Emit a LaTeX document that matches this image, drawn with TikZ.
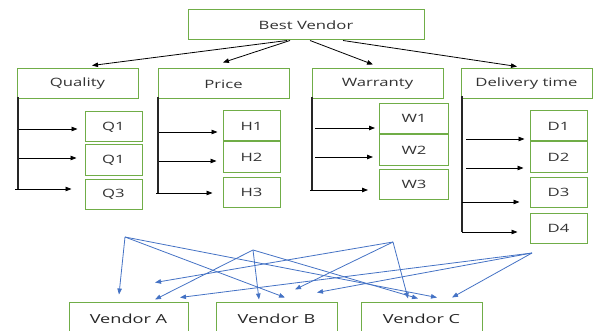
\documentclass[tikz,border=0pt]{standalone}
\usepackage{fontspec}
\newfontfamily\boxfont[FakeStretch=1.45]{Open Sans}
\usetikzlibrary{arrows.meta,positioning}
\definecolor{boxgreen}{RGB}{112,173,71}
\definecolor{linkblue}{RGB}{68,114,196}
\definecolor{txtgray}{RGB}{50,50,50}

\begin{document}
\begin{tikzpicture}[x=1pt, y=-1pt, >={Triangle[length=6pt,width=4.5pt]}]
    \tikzset{
        box/.style={draw=boxgreen, line width=1pt, rectangle, minimum height=30pt, inner sep=0pt, text=txtgray, font=\boxfont\fontsize{11.5}{13}\selectfont},
        sub/.style={box, minimum width=57pt},
        vendor/.style={box, minimum height=34pt, text=black!85, font=\boxfont\fontsize{12.5}{14}\selectfont},
        trunk/.style={draw=black!85, line width=1.4pt},
        line/.style={draw, ->, line width=0.8pt},
        link/.style={draw=linkblue, ->, line width=0.8pt}
    }
    \useasboundingbox (0,0) rectangle (593,331);

    \node [box, minimum width=236pt] (best) at (306,25) {Best Vendor};
    \node [box, minimum width=121pt] (quality) at (77.5,84) {Quality};
    \node [box, minimum width=131pt] (price) at (223.5,84) {Price};
    \node [box, minimum width=131pt] (warranty) at (377.5,84) {Warranty};
    \node [box, minimum width=131pt] (delivery) at (526.5,84) {Delivery time};

    \node [sub] (q1) at (113.5,127) {Q1};
    \node [sub, below=2pt of q1] (q2) {Q1};
    \node [sub, below=3pt of q2] (q3) {Q3};
    \node [sub] (h1) at (251.5,126) {H1};
    \node [sub, below=0pt of h1] (h2) {H2};
    \node [sub, below=4pt of h2] (h3) {H3};
    \node [sub, minimum width=69pt] (w1) at (414,118.5) {W1};
    \node [sub, minimum width=69pt, below=0.5pt of w1] (w2) {W2};
    \node [sub, minimum width=69pt, below=3pt of w2] (w3) {W3};
    \node [sub] (d1) at (558.5,126) {D1};
    \node [sub, below=0pt of d1] (d2) {D2};
    \node [sub, below=4pt of d2] (d3) {D3};
    \node [sub, below=5pt of d3] (d4) {D4};

    \node [vendor, minimum width=119pt] (va) at (128.5,319) {Vendor A};
    \node [vendor, minimum width=121pt] (vb) at (276.5,319) {Vendor B};
    \node [vendor, minimum width=121pt] (vc) at (421.5,319) {Vendor C};

    \draw [line] ([xshift=-19pt]best.south) -- ([shift={(14.5,-3)}]quality.north);
    \draw [line] ([xshift=-16pt]best.south) -- ([shift={(-0.5,-6)}]price.north);
    \draw [line] ([xshift=4pt]best.south) -- ([shift={(-4.5,-4)}]warranty.north);
    \draw [line] ([xshift=37pt]best.south) -- ([shift={(-9.5,-2)}]delivery.north);

    % quality branches
    \coordinate (qtop) at (18,97);
    \coordinate (qa) at (19,129);
    \coordinate (qb) at (19,158);
    \coordinate (qc) at (15,189);
    \draw [trunk] (qtop) -- (qtop |- qc);
    \draw [line, shorten >=7pt] (qa) -- (qa -| q1.west);
    \draw [line, shorten >=8pt] (qb) -- (qb -| q2.west);
    \draw [line, shorten >=13pt] (qc) -- (qc -| q3.west);

    % price branches
    \coordinate (htop) at (158,97);
    \coordinate (ha) at (159,132);
    \coordinate (hb) at (159,161);
    \coordinate (hc) at (156,193);
    \draw [trunk] (htop) -- (htop |- hc);
    \draw [line, shorten >=5pt] (ha) -- (ha -| h1.west);
    \draw [line, shorten >=6pt] (hb) -- (hb -| h2.west);
    \draw [line, shorten >=10pt] (hc) -- (hc -| h3.west);

    % warranty branches
    \coordinate (wtop) at (312,97);
    \coordinate (wa) at (315,128);
    \coordinate (wb) at (315,157);
    \coordinate (wc) at (310,190);
    \draw [trunk] (wtop) -- (wtop |- wc);
    \draw [line, shorten >=4pt] (wa) -- (wa -| w1.west);
    \draw [line, shorten >=6pt] (wb) -- (wb -| w2.west);
    \draw [line, shorten >=11pt] (wc) -- (wc -| w3.west);

    % delivery branches
    \coordinate (dtop) at (462,96);
    \coordinate (da) at (466,139);
    \coordinate (db) at (466,168);
    \coordinate (dc) at (462,202);
    \coordinate (dd) at (462,232);
    \draw [trunk] (dtop) -- (dtop |- dd);
    \draw [line, shorten >=5pt] (da) -- (da -| d1.west);
    \draw [line, shorten >=6pt] (db) -- (db -| d2.west);
    \draw [line, shorten >=10pt] (dc) -- (dc -| d3.west);
    \draw [line, shorten >=12pt] (dd) -- (dd -| d4.west);

    % links to vendors
    \coordinate (s1) at (125,237);
    \coordinate (s2) at (253,250);
    \coordinate (s3) at (393,242);
    \coordinate (s4) at (532,253);
    \draw [link] (s1) -- ([shift={(-9.5,-7)}]va.north);
    \draw [link] (s1) -- ([shift={(8.5,-4)}]vb.north);
    \draw [link] (s1) -- ([shift={(15.5,-4)}]vc.north);
    \draw [link] (s2) -- ([shift={(26.5,-2)}]va.north);
    \draw [link] (s2) -- ([shift={(-17.5,-2)}]vb.north);
    \draw [link] (s2) -- ([shift={(-3.5,-3)}]vc.north);
    \draw [link] (s3) -- ([shift={(26.5,-19)}]va.north);
    \draw [link] (s3) -- ([shift={(18.5,-12)}]vb.north);
    \draw [link] (s3) -- ([shift={(-13.5,-3)}]vc.north);
    \draw [link] (s4) -- ([shift={(51.5,-4)}]va.north);
    \draw [link] (s4) -- ([shift={(40.5,-9)}]vb.north);
    \draw [link] (s4) -- ([shift={(30.5,-4)}]vc.north);
\end{tikzpicture}
\end{document}
